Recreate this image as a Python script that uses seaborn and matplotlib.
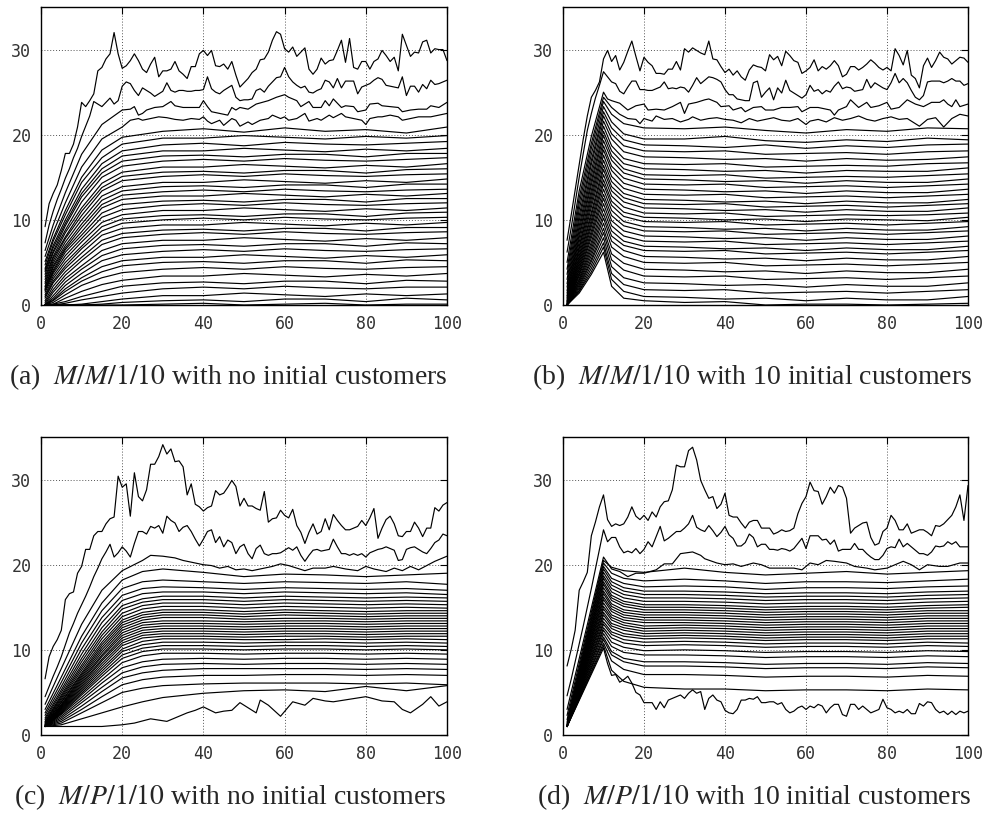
import matplotlib
matplotlib.use("Agg")
import matplotlib.pyplot as plt
import pandas as pd
import seaborn as sns

sns.set_style("white")
plt.rcParams["font.family"] = ["DejaVu Sans Mono", "DejaVu Sans"]
plt.rcParams["mathtext.fontset"] = "stix"

# time index of the detailed series
X100 = list(range(1, 101))

# ---------------- panel (a): M/M/1/10, no initial customers ----------------
A_TOP1 = [9.2, 11.9, 13.1, 14.1, 15.8, 17.8, 17.8, 18.9, 20.9, 23.8,
          23.3, 24.0, 24.8, 27.5, 27.9, 28.9, 29.5, 32.0, 29.5, 27.8,
          28.1, 28.7, 29.5, 28.7, 27.7, 27.3, 28.3, 29.1, 26.8, 27.5,
          27.5, 27.7, 28.6, 27.5, 27.1, 26.6, 28.0, 28.0, 29.5, 29.9,
          29.3, 29.9, 28.1, 28.0, 28.3, 27.7, 28.6, 27.0, 25.6, 26.1,
          26.6, 27.3, 27.7, 28.8, 28.9, 29.7, 31.1, 32.1, 31.8, 30.1,
          29.7, 30.3, 29.2, 29.7, 30.2, 27.7, 27.1, 27.7, 29.0, 28.3,
          28.7, 28.8, 29.9, 31.1, 28.5, 31.3, 27.9, 27.7, 28.6, 28.6,
          27.7, 28.6, 28.9, 29.9, 29.3, 28.6, 29.1, 27.5, 31.8, 30.5,
          29.2, 29.7, 29.6, 30.9, 31.1, 29.6, 30.1, 30.0, 30.0, 28.7]
A_TOP2 = [7.3, 9.4, 11.0, 12.4, 13.6, 14.9, 16.0, 17.3, 18.4, 19.8,
          21.0, 22.2, 23.9, 23.6, 23.3, 23.8, 24.3, 23.6, 24.0, 25.7,
          26.2, 26.0, 25.2, 24.6, 25.5, 25.2, 24.9, 24.5, 24.8, 25.1,
          26.1, 25.2, 25.0, 25.2, 25.2, 25.1, 25.1, 25.2, 25.2, 25.3,
          26.8, 25.4, 25.0, 24.8, 25.2, 25.5, 25.8, 24.4, 24.0, 24.1,
          24.1, 24.2, 25.2, 25.4, 25.0, 25.7, 26.2, 26.7, 26.8, 27.9,
          26.8, 26.2, 25.8, 25.5, 25.7, 25.0, 24.9, 25.2, 25.4, 26.4,
          26.2, 25.5, 26.6, 25.5, 26.3, 26.3, 26.3, 24.8, 25.6, 25.8,
          26.0, 26.4, 26.7, 26.5, 25.8, 25.7, 25.6, 25.5, 26.8, 24.6,
          25.7, 25.7, 25.0, 25.9, 25.4, 26.4, 25.9, 26.0, 26.2, 26.4]
A_L3_X = [1, 3, 6, 10, 15, 20, 22, 23, 24, 25, 26, 28, 30, 32, 33, 35, 37, 39, 40,
          41, 42, 44, 46, 47, 48, 49, 51, 53, 56, 58, 60, 61, 63, 64, 66, 67, 69, 70,
          71, 72, 74, 75, 77, 78, 80, 81, 83, 84, 86, 88, 89, 91, 93, 95, 96, 98, 100]
A_L3_Y = [6.4, 9.4, 13.2, 17.7, 21.2, 22.9, 23.0, 23.3, 22.3, 22.5, 22.9, 23.2, 23.3,
          23.9, 23.4, 23.2, 23.2, 23.2, 24.0, 23.3, 22.7, 22.5, 22.3, 23.2, 22.9, 23.2,
          23.0, 23.6, 24.0, 24.4, 24.7, 24.4, 24.0, 23.3, 23.9, 23.2, 23.2, 24.0, 23.4,
          24.2, 23.2, 23.4, 23.3, 22.7, 22.9, 23.6, 23.7, 23.4, 23.3, 23.2, 22.7, 22.9,
          23.0, 23.0, 23.4, 23.2, 23.8]
A_L4_X = [1, 3, 6, 10, 15, 20, 22, 24, 25, 27, 29, 31, 33, 35, 37, 39, 40, 41, 42,
          44, 45, 47, 48, 49, 51, 52, 54, 56, 57, 59, 60, 61, 63, 65, 66, 68, 69, 71,
          72, 74, 75, 77, 79, 80, 81, 83, 84, 86, 88, 89, 91, 93, 94, 96, 98, 100]
A_L4_Y = [5.7, 8.5, 12.0, 16.2, 19.5, 20.9, 21.7, 21.9, 21.7, 21.9, 22.1, 22.0, 21.8,
          21.7, 21.9, 21.8, 22.1, 21.6, 21.3, 21.7, 21.1, 21.9, 21.7, 21.0, 21.5, 21.2,
          21.7, 21.9, 22.3, 21.9, 22.1, 21.7, 21.9, 22.5, 21.6, 21.9, 21.7, 22.3, 22.0,
          22.5, 22.1, 21.9, 21.7, 21.2, 21.9, 22.1, 22.1, 22.3, 22.1, 21.7, 21.9, 22.1,
          22.1, 22.1, 22.3, 22.5]
A_GRID_X = [1, 3, 6, 10, 15, 20, 30, 40, 50, 60, 70, 80, 90, 100]
A_ROWS = [
    [5.1, 7.8, 11.1, 15.0, 18.2, 19.7, 20.4, 20.7, 20.3, 20.8, 20.4, 20.6, 20.2, 20.9],
    [4.7, 7.5, 10.6, 14.4, 17.3, 18.9, 19.6, 19.6, 19.9, 19.7, 19.5, 19.8, 19.6, 19.9],
    [4.3, 7.0, 10.0, 13.6, 16.6, 18.1, 18.8, 19.0, 18.7, 19.1, 18.9, 18.8, 19.0, 19.2],
    [4.1, 6.7, 9.6, 13.1, 16.0, 17.5, 18.1, 18.1, 18.4, 18.2, 18.0, 18.3, 18.1, 18.4],
    [3.9, 6.3, 9.3, 12.7, 15.5, 16.9, 17.5, 17.6, 17.4, 17.7, 17.7, 17.4, 17.8, 17.8],
    [3.6, 6.1, 8.8, 12.1, 15.0, 16.3, 16.9, 17.1, 16.9, 17.2, 17.0, 16.9, 17.1, 17.3],
    [3.3, 5.7, 8.5, 11.4, 14.3, 15.6, 16.2, 16.2, 16.5, 16.3, 16.1, 16.4, 16.2, 16.6],
    [3.0, 5.5, 8.0, 11.0, 13.8, 15.1, 15.6, 15.7, 15.5, 15.8, 15.8, 15.5, 15.9, 16.0],
    [2.7, 5.2, 7.8, 10.5, 13.4, 14.6, 15.1, 15.3, 15.1, 15.4, 15.2, 15.1, 15.3, 15.4],
    [2.5, 4.9, 7.4, 10.0, 12.8, 13.9, 14.4, 14.4, 14.7, 14.5, 14.3, 14.6, 14.4, 14.8],
    [2.2, 4.6, 7.0, 9.5, 12.3, 13.4, 13.9, 14.0, 13.8, 14.1, 14.1, 13.8, 14.2, 14.2],
    [2.1, 4.4, 6.7, 9.1, 11.8, 12.9, 13.3, 13.5, 13.3, 13.6, 13.4, 13.3, 13.5, 13.6],
    [1.9, 4.1, 6.5, 8.6, 11.4, 12.4, 12.8, 12.8, 13.1, 12.9, 12.7, 13.0, 12.8, 13.1],
    [1.8, 3.9, 6.2, 8.2, 10.8, 11.8, 12.2, 12.3, 12.1, 12.4, 12.4, 12.1, 12.5, 12.5],
    [1.7, 3.7, 5.8, 7.8, 10.3, 11.2, 11.7, 11.9, 11.7, 12.0, 11.8, 11.7, 11.9, 12.0],
    [1.5, 3.4, 5.4, 7.4, 9.7, 10.6, 11.1, 11.1, 11.4, 11.2, 11.0, 11.3, 11.1, 11.4],
    [1.2, 3.1, 5.0, 6.9, 9.2, 10.1, 10.5, 10.6, 10.4, 10.7, 10.7, 10.4, 10.8, 10.9],
    [1.0, 2.8, 4.6, 6.6, 8.7, 9.6, 10.0, 10.2, 10.0, 10.3, 10.1, 10.0, 10.2, 10.3],
    [0.8, 2.6, 4.3, 6.1, 8.2, 9.0, 9.4, 9.4, 9.7, 9.5, 9.3, 9.6, 9.4, 9.7],
    [0.5, 2.2, 3.9, 5.6, 7.6, 8.4, 8.8, 8.9, 8.7, 9.0, 9.0, 8.7, 9.1, 9.1],
    [0.3, 1.8, 3.5, 5.2, 7.1, 7.9, 8.3, 8.5, 8.3, 8.6, 8.4, 8.3, 8.5, 8.6],
    [0.1, 1.5, 3.1, 4.6, 6.4, 7.2, 7.6, 7.6, 7.9, 7.7, 7.5, 7.8, 7.6, 7.9],
    [0.0, 1.1, 2.7, 4.2, 5.8, 6.6, 7.0, 7.1, 6.9, 7.2, 7.2, 6.9, 7.3, 7.2],
    [0.0, 0.8, 2.3, 3.7, 5.2, 5.9, 6.3, 6.5, 6.3, 6.6, 6.4, 6.3, 6.5, 6.6],
    [0.0, 0.6, 1.9, 3.2, 4.5, 5.2, 5.6, 5.6, 5.9, 5.7, 5.5, 5.8, 5.6, 5.9],
    [0.0, 0.5, 1.6, 2.8, 3.9, 4.6, 5.0, 5.1, 4.9, 5.2, 5.2, 4.9, 5.3, 5.2],
    [0.0, 0.3, 1.2, 2.3, 3.2, 3.8, 4.2, 4.4, 4.2, 4.5, 4.3, 4.2, 4.4, 4.5],
    [0.0, 0.1, 0.8, 1.6, 2.4, 2.9, 3.4, 3.4, 3.7, 3.5, 3.3, 3.6, 3.4, 3.7],
    [0.0, 0.1, 0.4, 1.0, 1.6, 2.2, 2.6, 2.7, 2.5, 2.8, 2.8, 2.5, 2.9, 2.8],
    [0.0, 0.0, 0.2, 0.6, 1.0, 1.4, 1.9, 2.1, 1.9, 2.2, 2.0, 1.9, 2.1, 2.1],
    [0.0, 0.0, 0.0, 0.1, 0.4, 0.7, 1.1, 1.1, 1.4, 1.2, 1.0, 1.3, 1.1, 1.3],
    [0.0, 0.0, 0.0, 0.0, 0.1, 0.3, 0.5, 0.6, 0.4, 0.7, 0.7, 0.4, 0.8, 0.6],
    [0.0, 0.0, 0.0, 0.0, 0.0, 0.0, 0.1, 0.2, 0.0, 0.1, 0.2, 0.0, 0.1, 0.1],
]

# ---------------- panel (b): M/M/1/10, 10 initial customers ----------------
B_TOP1 = [7.6, 10.5, 13.5, 16.5, 19.5, 22.2, 24.4, 25.2, 26.2, 28.9,
          29.9, 28.6, 29.3, 27.6, 28.5, 29.8, 31.0, 29.2, 27.5, 29.1,
          28.5, 28.1, 27.2, 27.2, 27.1, 27.7, 27.7, 28.6, 27.6, 30.1,
          29.7, 30.2, 29.9, 29.6, 29.4, 31.0, 28.9, 28.8, 28.0, 27.3,
          27.7, 27.0, 27.5, 26.8, 26.4, 27.6, 28.2, 28.0, 27.9, 27.5,
          29.4, 28.8, 29.2, 28.1, 29.8, 29.3, 28.7, 28.5, 27.2, 27.5,
          27.9, 28.8, 27.5, 28.0, 27.7, 28.1, 28.7, 28.1, 26.8, 27.1,
          28.0, 28.0, 27.6, 27.9, 28.3, 28.8, 28.4, 27.9, 27.6, 27.9,
          27.5, 30.1, 29.3, 28.2, 29.9, 27.0, 26.6, 25.5, 28.1, 29.0,
          27.9, 28.7, 29.7, 29.1, 28.9, 28.3, 28.7, 29.1, 29.0, 28.5]
B_TOP2 = [6.2, 9.0, 12.0, 15.0, 17.8, 20.5, 22.5, 24.3, 25.8, 27.4,
          26.8, 26.2, 26.0, 25.1, 24.8, 25.6, 26.3, 26.3, 25.3, 25.3,
          25.2, 25.2, 25.4, 25.6, 26.2, 25.4, 25.5, 25.4, 25.6, 25.5,
          25.0, 25.8, 26.7, 26.0, 26.4, 26.8, 26.7, 26.5, 26.2, 25.3,
          24.7, 24.7, 24.2, 24.1, 24.0, 24.0, 26.1, 26.3, 24.4, 25.0,
          25.5, 24.1, 25.5, 24.9, 26.4, 25.2, 24.9, 24.6, 24.3, 24.7,
          25.8, 25.1, 25.3, 24.8, 25.2, 25.0, 25.7, 26.2, 25.4, 25.6,
          25.5, 25.1, 25.2, 25.3, 26.5, 25.5, 26.1, 25.8, 25.5, 25.3,
          26.1, 27.2, 26.1, 26.6, 26.1, 25.2, 24.4, 24.1, 24.6, 26.2,
          26.3, 26.3, 26.3, 26.1, 26.3, 26.6, 26.3, 26.3, 25.8, 26.0]
B_L3_X = [1, 4, 7, 10, 11, 12, 14, 15, 16, 18, 20, 21, 23, 25, 27, 29, 30, 31, 33, 35,
          36, 38, 39, 41, 42, 44, 45, 47, 49, 50, 52, 54, 56, 58, 59, 61, 63, 66, 67, 68,
          70, 71, 73, 75, 76, 78, 80, 81, 83, 85, 87, 89, 91, 93, 94, 95, 96, 97, 98, 100]
B_L3_Y = [5.0, 13.4, 19.8, 25.0, 24.2, 24.0, 23.7, 23.3, 22.9, 23.4, 23.6, 22.9, 23.0,
          22.9, 23.3, 23.8, 22.5, 23.6, 23.8, 24.1, 24.2, 23.8, 23.3, 23.4, 22.9, 23.2,
          22.7, 23.2, 23.3, 22.9, 22.9, 23.2, 23.2, 23.3, 22.7, 23.2, 23.2, 22.9, 22.3,
          22.9, 23.3, 24.1, 23.2, 23.8, 23.2, 23.4, 23.8, 23.0, 23.2, 24.1, 23.6, 23.3,
          23.8, 23.8, 24.1, 23.6, 23.3, 24.1, 23.3, 23.6]
B_L4_X = [1, 4, 7, 10, 12, 14, 16, 18, 19, 20, 22, 23, 25, 27, 29, 31, 32, 34, 36, 38,
          40, 42, 44, 46, 48, 50, 52, 54, 56, 58, 60, 61, 63, 65, 67, 69, 71, 73, 75, 77,
          79, 81, 83, 85, 87, 88, 90, 92, 94, 96, 98, 100]
B_L4_Y = [4.2, 12.6, 19.0, 24.4, 23.2, 22.4, 21.9, 21.8, 21.3, 21.9, 21.6, 22.2, 21.8,
          21.9, 21.5, 21.8, 22.1, 21.7, 21.9, 22.0, 21.8, 21.7, 21.4, 21.9, 21.6, 21.8,
          22.0, 21.7, 21.6, 21.9, 21.2, 21.6, 21.8, 21.5, 22.0, 21.7, 21.9, 22.2, 21.8,
          21.6, 21.9, 22.1, 21.8, 21.9, 21.3, 21.0, 21.8, 22.0, 20.9, 21.9, 22.4, 22.2]
B_GRID_X = [1, 4, 7, 10, 12, 15, 20, 30, 40, 50, 60, 70, 80, 90, 100]
B_ROWS = [
    [3.6, 11.9, 18.4, 23.9, 22.4, 21.3, 20.8, 20.7, 20.9, 20.5, 20.2, 20.6, 20.4, 20.8, 20.7],
    [3.0, 11.2, 17.7, 23.3, 21.5, 20.1, 19.5, 19.5, 19.8, 19.3, 19.1, 19.4, 19.2, 19.6, 19.4],
    [2.5, 10.5, 17.0, 22.7, 20.8, 19.4, 18.8, 18.7, 18.5, 18.8, 18.4, 18.7, 18.5, 18.8, 18.9],
    [2.1, 9.9, 16.5, 22.2, 20.1, 18.7, 18.1, 18.0, 18.1, 17.7, 17.8, 17.9, 17.7, 18.0, 18.1],
    [1.7, 9.3, 15.8, 21.6, 19.5, 18.0, 17.4, 17.3, 17.1, 17.2, 16.9, 17.2, 17.0, 17.1, 17.4],
    [1.4, 8.8, 15.2, 21.0, 18.7, 17.2, 16.6, 16.5, 16.6, 16.2, 16.3, 16.4, 16.3, 16.6, 16.7],
    [1.1, 8.3, 14.6, 20.4, 18.1, 16.6, 16.0, 15.9, 15.7, 15.8, 15.5, 15.8, 15.7, 15.7, 16.1],
    [0.9, 7.9, 14.1, 19.9, 17.5, 16.0, 15.3, 15.2, 15.3, 14.9, 15.0, 15.1, 15.0, 15.2, 15.4],
    [0.7, 7.4, 13.5, 19.3, 17.0, 15.5, 14.8, 14.7, 14.5, 14.6, 14.3, 14.6, 14.4, 14.4, 14.8],
    [0.5, 6.9, 13.0, 18.7, 16.3, 14.9, 14.2, 14.1, 14.2, 13.8, 13.9, 14.0, 13.8, 14.0, 14.2],
    [0.4, 6.6, 12.5, 18.2, 15.8, 14.3, 13.6, 13.5, 13.3, 13.4, 13.1, 13.4, 13.2, 13.2, 13.6],
    [0.3, 6.2, 12.0, 17.6, 15.1, 13.7, 13.0, 12.9, 13.0, 12.6, 12.7, 12.8, 12.6, 12.8, 13.0],
    [0.2, 5.8, 11.5, 17.0, 14.5, 13.1, 12.4, 12.3, 12.1, 12.2, 11.9, 12.2, 12.0, 12.0, 12.4],
    [0.1, 5.5, 10.9, 16.4, 13.9, 12.6, 11.9, 11.8, 11.9, 11.5, 11.6, 11.7, 11.5, 11.7, 11.9],
    [0.0, 5.2, 10.5, 15.9, 13.4, 12.1, 11.4, 11.3, 11.1, 11.2, 10.9, 11.2, 11.0, 11.0, 11.4],
    [0.0, 4.9, 10.0, 15.3, 12.8, 11.5, 10.8, 10.7, 10.8, 10.4, 10.5, 10.6, 10.5, 10.6, 10.8],
    [0.0, 4.6, 9.6, 14.7, 12.2, 10.9, 10.3, 10.2, 10.0, 10.1, 9.8, 10.1, 10.0, 9.9, 10.3],
    [0.0, 4.3, 9.2, 14.2, 11.7, 10.4, 9.8, 9.7, 9.8, 9.4, 9.5, 9.6, 9.4, 9.6, 9.8],
    [0.0, 4.1, 8.7, 13.6, 11.1, 9.8, 9.2, 9.1, 8.9, 9.0, 8.7, 9.0, 8.8, 8.8, 9.2],
    [0.0, 3.8, 8.3, 13.0, 10.5, 9.3, 8.7, 8.6, 8.7, 8.3, 8.4, 8.5, 8.3, 8.5, 8.7],
    [0.0, 3.6, 7.9, 12.5, 9.9, 8.7, 8.1, 8.0, 7.8, 7.9, 7.6, 7.9, 7.7, 7.7, 8.1],
    [0.0, 3.4, 7.4, 11.9, 9.3, 8.1, 7.5, 7.4, 7.5, 7.1, 7.2, 7.3, 7.1, 7.3, 7.5],
    [0.0, 3.1, 7.0, 11.3, 8.7, 7.5, 6.9, 6.8, 6.6, 6.7, 6.4, 6.7, 6.5, 6.5, 6.9],
    [0.0, 2.9, 6.6, 10.7, 8.1, 7.0, 6.4, 6.3, 6.4, 6.0, 6.1, 6.2, 6.0, 6.2, 6.4],
    [0.0, 2.7, 6.2, 10.2, 7.5, 6.4, 5.7, 5.6, 5.4, 5.5, 5.2, 5.5, 5.3, 5.3, 5.7],
    [0.0, 2.5, 5.8, 9.6, 6.8, 5.7, 5.0, 4.9, 5.0, 4.6, 4.7, 4.8, 4.6, 4.8, 5.0],
    [0.0, 2.3, 5.4, 9.0, 6.0, 4.9, 4.2, 4.1, 3.9, 4.0, 3.7, 4.0, 3.8, 3.8, 4.2],
    [0.0, 2.1, 5.1, 8.5, 5.3, 4.1, 3.4, 3.3, 3.4, 3.0, 3.1, 3.2, 3.0, 3.2, 3.4],
    [0.0, 1.9, 4.7, 7.9, 4.5, 3.2, 2.6, 2.5, 2.3, 2.4, 2.1, 2.4, 2.2, 2.2, 2.6],
    [0.0, 1.7, 4.3, 7.3, 3.7, 2.4, 1.8, 1.7, 1.8, 1.4, 1.5, 1.6, 1.4, 1.6, 1.8],
    [0.0, 1.6, 3.9, 6.8, 3.0, 1.6, 1.0, 0.9, 0.7, 0.8, 0.5, 0.8, 0.6, 0.6, 1.0],
    [0.0, 1.4, 3.6, 6.2, 2.2, 0.8, 0.5, 0.3, 0.4, 0.0, 0.1, 0.1, 0.0, 0.1, 0.2],
]

# ---------------- panel (c): M/P/1/10, no initial customers ----------------
C_TOP1 = [6.6, 9.2, 10.4, 11.2, 12.3, 15.9, 16.6, 16.8, 19.0, 19.8,
          21.8, 21.8, 23.4, 23.9, 23.9, 24.8, 25.4, 25.6, 30.4, 29.1,
          29.5, 25.7, 30.8, 28.0, 27.5, 28.8, 31.8, 31.8, 32.7, 34.1,
          33.0, 33.6, 32.1, 32.2, 31.5, 28.2, 29.5, 27.1, 26.8, 26.3,
          26.7, 26.9, 28.7, 28.2, 28.4, 29.1, 29.9, 29.2, 26.9, 27.8,
          26.9, 26.9, 26.6, 26.4, 28.6, 25.0, 25.4, 25.5, 26.4, 25.8,
          25.5, 26.5, 24.6, 23.8, 22.5, 23.8, 24.8, 23.6, 23.9, 25.4,
          24.1, 25.9, 25.2, 24.6, 24.1, 24.1, 24.3, 24.5, 25.2, 24.6,
          25.5, 26.6, 23.1, 24.3, 25.3, 25.7, 24.8, 23.4, 23.3, 23.9,
          23.9, 25.0, 24.3, 23.3, 24.3, 24.3, 26.7, 26.3, 27.0, 27.3]
C_TOP2 = [4.5, 5.7, 6.9, 8.0, 9.2, 10.6, 12.0, 13.1, 14.3, 15.3,
          16.3, 17.4, 18.6, 19.6, 20.7, 21.5, 22.4, 20.9, 21.4, 22.1,
          21.6, 20.9, 22.5, 23.9, 23.9, 23.6, 24.5, 24.3, 24.6, 23.7,
          25.7, 25.2, 24.9, 23.9, 24.4, 24.6, 23.9, 23.0, 22.2, 23.0,
          23.9, 24.1, 22.6, 23.3, 22.1, 22.9, 22.6, 21.3, 22.1, 22.4,
          21.3, 20.7, 21.9, 22.3, 21.3, 21.1, 21.3, 21.3, 21.4, 21.7,
          22.0, 21.7, 22.1, 21.1, 20.4, 21.1, 21.7, 21.8, 21.6, 21.7,
          21.8, 23.0, 22.1, 21.3, 21.3, 21.1, 21.3, 21.1, 21.3, 20.9,
          21.4, 21.6, 21.8, 21.9, 22.1, 21.9, 21.7, 20.5, 20.6, 21.8,
          22.0, 22.1, 21.8, 21.5, 21.3, 21.9, 22.6, 22.9, 23.6, 23.4]
C_L3_X = [1, 5, 10, 15, 20, 25, 27, 30, 33, 35, 38, 40, 42, 44, 46, 48, 50, 52, 55, 57,
          59, 61, 63, 65, 67, 70, 72, 75, 78, 80, 82, 85, 87, 89, 91, 93, 95, 97, 99, 100]
C_L3_Y = [3.6, 7.8, 13.0, 17.0, 19.3, 20.5, 21.1, 21.0, 20.8, 20.5, 20.2, 20.0, 19.9,
          19.6, 19.8, 19.4, 19.5, 19.3, 19.6, 19.8, 20.1, 19.9, 19.6, 19.3, 19.6, 19.6,
          19.8, 19.5, 19.3, 19.8, 19.5, 19.2, 19.6, 19.3, 19.8, 19.4, 19.9, 20.4, 20.8, 21.0]
C_GRID_X = [1, 5, 10, 15, 20, 25, 30, 40, 50, 60, 70, 80, 90, 100]
C_ROWS = [
    [3.0, 6.8, 11.6, 15.5, 18.2, 19.2, 19.5, 19.1, 18.6, 18.9, 18.8, 18.6, 18.8, 19.0],
    [2.6, 6.2, 10.8, 14.6, 17.2, 18.0, 18.2, 18.0, 17.8, 18.0, 17.9, 17.8, 18.0, 17.7],
    [2.3, 5.7, 10.1, 13.8, 16.4, 17.2, 17.4, 17.3, 17.1, 17.3, 17.2, 17.1, 17.2, 17.0],
    [2.0, 5.3, 9.5, 13.2, 15.8, 16.6, 16.8, 16.8, 16.6, 16.8, 16.7, 16.6, 16.7, 16.5],
    [1.8, 5.0, 9.0, 12.6, 15.2, 16.0, 16.3, 16.3, 16.1, 16.3, 16.2, 16.1, 16.2, 16.1],
    [1.6, 4.7, 8.6, 12.1, 14.8, 15.6, 15.9, 15.9, 15.7, 15.9, 15.8, 15.7, 15.8, 15.7],
    [1.5, 4.5, 8.2, 11.7, 14.3, 15.2, 15.5, 15.5, 15.3, 15.5, 15.4, 15.3, 15.4, 15.3],
    [1.4, 4.3, 7.9, 11.3, 13.9, 14.8, 15.1, 15.1, 14.9, 15.1, 15.0, 14.9, 15.0, 14.9],
    [1.3, 4.1, 7.6, 10.9, 13.5, 14.4, 14.7, 14.7, 14.5, 14.7, 14.6, 14.5, 14.6, 14.6],
    [1.2, 3.9, 7.3, 10.6, 13.2, 14.1, 14.4, 14.4, 14.2, 14.4, 14.3, 14.2, 14.3, 14.3],
    [1.2, 3.8, 7.1, 10.3, 12.9, 13.8, 14.1, 14.1, 13.9, 14.1, 14.0, 13.9, 14.0, 14.0],
    [1.1, 3.6, 6.9, 10.0, 12.6, 13.5, 13.8, 13.8, 13.6, 13.7, 13.7, 13.6, 13.7, 13.7],
    [1.1, 3.5, 6.7, 9.7, 12.3, 13.2, 13.4, 13.4, 13.3, 13.4, 13.4, 13.3, 13.4, 13.4],
    [1.0, 3.4, 6.5, 9.4, 12.0, 12.9, 13.1, 13.1, 13.0, 13.1, 13.1, 13.0, 13.1, 13.1],
    [1.0, 3.3, 6.3, 9.2, 11.7, 12.6, 12.8, 12.8, 12.7, 12.8, 12.8, 12.7, 12.8, 12.8],
    [1.0, 3.2, 6.1, 8.9, 11.4, 12.3, 12.5, 12.5, 12.4, 12.5, 12.5, 12.4, 12.5, 12.5],
    [1.0, 3.1, 5.9, 8.7, 11.1, 12.0, 12.2, 12.2, 12.1, 12.2, 12.2, 12.1, 12.2, 12.2],
    [1.0, 3.0, 5.7, 8.4, 10.8, 11.7, 11.9, 11.9, 11.8, 11.9, 11.9, 11.8, 11.9, 11.9],
    [1.0, 2.9, 5.5, 8.1, 10.5, 11.4, 11.6, 11.6, 11.5, 11.6, 11.6, 11.5, 11.6, 11.6],
    [1.0, 2.8, 5.3, 7.8, 10.1, 11.0, 11.3, 11.3, 11.2, 11.2, 11.3, 11.2, 11.3, 11.2],
    [1.0, 2.7, 5.1, 7.5, 9.8, 10.6, 10.9, 10.9, 10.8, 10.9, 10.9, 10.8, 10.9, 10.8],
    [1.0, 2.6, 4.9, 7.2, 9.4, 10.2, 10.5, 10.5, 10.4, 10.5, 10.5, 10.4, 10.5, 10.4],
    [1.0, 2.5, 4.7, 6.9, 9.0, 9.8, 10.1, 10.1, 10.0, 10.1, 10.1, 10.0, 10.1, 10.0],
    [1.0, 2.4, 4.4, 6.5, 8.5, 9.3, 9.6, 9.6, 9.5, 9.6, 9.6, 9.5, 9.6, 9.5],
    [1.0, 2.2, 4.1, 6.1, 7.9, 8.6, 8.9, 9.0, 8.9, 9.0, 9.0, 8.9, 9.0, 8.9],
    [1.0, 2.0, 3.8, 5.6, 7.3, 8.0, 8.3, 8.4, 8.3, 8.4, 8.4, 8.3, 8.4, 8.3],
    [1.0, 1.8, 3.4, 5.1, 6.7, 7.3, 7.6, 7.8, 7.8, 7.8, 7.8, 7.7, 7.8, 7.7],
    [1.0, 1.6, 3.0, 4.5, 5.9, 6.5, 6.8, 7.0, 7.0, 7.1, 7.1, 7.0, 7.1, 7.0],
    [1.0, 1.4, 2.6, 3.8, 5.0, 5.5, 5.8, 6.0, 6.1, 6.1, 6.1, 6.0, 6.1, 5.9],
    [1.0, 1.2, 1.9, 2.6, 3.3, 3.9, 4.4, 4.9, 5.2, 5.3, 5.1, 5.7, 5.2, 5.8],
]
C_BOT_X = [1, 5, 10, 15, 20, 23, 27, 31, 34, 36, 38, 40, 43, 45, 47, 49, 51, 53,
           54, 56, 59, 62, 65, 67, 70, 72, 76, 80, 84, 87, 89, 91, 94, 96, 98, 100]
C_BOT_Y = [1.0, 1.0, 1.0, 1.0, 1.2, 1.4, 1.9, 1.6, 2.2, 2.6, 2.9, 3.3, 2.6, 2.8, 2.9, 3.8, 3.2, 2.6,
           4.1, 3.5, 2.2, 3.9, 3.5, 4.3, 4.0, 3.9, 4.2, 4.5, 4.0, 3.9, 3.0, 2.6, 3.6, 4.5, 3.4, 3.9]

# ---------------- panel (d): M/P/1/10, 10 initial customers ----------------
D_TOP1 = [8.1, 10.0, 12.3, 17.0, 18.0, 19.1, 23.4, 25.0, 26.8, 28.2,
          25.3, 24.5, 24.8, 24.6, 24.8, 25.6, 26.8, 25.7, 25.3, 25.8,
          25.2, 26.2, 25.6, 26.8, 27.4, 27.5, 28.8, 31.7, 31.5, 31.5,
          33.4, 33.8, 32.3, 29.9, 28.8, 27.8, 28.0, 26.6, 27.1, 28.4,
          25.8, 25.6, 25.6, 24.9, 24.3, 25.0, 25.2, 25.2, 24.3, 24.3,
          24.3, 23.6, 23.8, 24.1, 23.9, 24.0, 24.3, 26.0, 27.2, 28.0,
          29.7, 28.7, 28.6, 27.1, 28.0, 29.1, 28.4, 29.3, 29.1, 27.8,
          23.7, 24.3, 24.6, 24.9, 25.0, 23.2, 22.3, 22.5, 23.9, 24.3,
          25.8, 25.2, 24.1, 24.1, 24.8, 23.7, 23.9, 24.1, 24.1, 23.8,
          23.4, 24.6, 24.5, 24.8, 25.3, 25.8, 26.8, 28.2, 25.2, 29.3]
D_TOP2 = [4.6, 6.5, 8.6, 10.7, 12.8, 15.0, 17.2, 19.5, 21.8, 24.1,
          22.7, 23.2, 23.2, 22.1, 21.4, 21.6, 21.4, 21.9, 21.3, 21.8,
          22.7, 22.1, 23.3, 24.5, 22.8, 23.1, 23.5, 23.9, 23.9, 24.3,
          24.8, 25.8, 24.4, 24.1, 23.9, 24.6, 24.0, 23.3, 23.8, 24.5,
          23.5, 23.1, 22.2, 22.2, 22.6, 23.6, 23.2, 22.1, 22.4, 22.4,
          21.8, 21.8, 21.7, 21.9, 21.8, 21.6, 21.9, 22.5, 23.1, 21.9,
          23.4, 23.4, 23.4, 22.9, 23.0, 22.4, 22.9, 21.6, 21.8, 21.8,
          21.8, 22.5, 21.8, 21.8, 21.3, 20.9, 20.6, 20.6, 21.1, 21.9,
          22.1, 22.0, 23.0, 22.1, 22.5, 22.1, 21.7, 21.3, 21.3, 21.1,
          21.5, 22.2, 22.1, 22.2, 22.7, 22.4, 22.7, 22.1, 22.1, 22.1]
D_L3_X = [1, 10, 12, 14, 16, 18, 20, 23, 25, 27, 29, 32, 34, 35, 38, 40, 42, 44, 47, 49,
          51, 53, 55, 57, 59, 61, 63, 65, 67, 70, 72, 75, 77, 80, 82, 84, 86, 88, 90, 93,
          95, 98, 100]
D_L3_Y = [3.0, 20.9, 19.5, 19.2, 18.6, 19.0, 19.0, 19.4, 20.1, 20.1, 21.3, 21.5, 21.1,
          20.7, 20.2, 20.0, 20.1, 19.8, 20.2, 20.0, 19.6, 19.6, 19.6, 19.6, 19.4, 20.2,
          20.0, 20.5, 20.4, 20.2, 19.8, 19.6, 19.4, 19.6, 20.0, 20.4, 20.0, 19.4, 20.0,
          19.8, 19.8, 20.2, 20.2]
D_GRID_X = [1, 10, 12, 15, 20, 30, 40, 50, 60, 70, 80, 90, 100]
D_ROWS = [
    [2.3, 20.5, 19.7, 19.3, 19.1, 19.6, 19.1, 18.8, 19.0, 19.2, 18.9, 19.1, 19.3],
    [1.8, 20.2, 19.0, 18.4, 18.1, 18.3, 18.1, 17.8, 18.0, 18.0, 17.9, 18.1, 18.3],
    [1.5, 19.8, 18.4, 17.8, 17.4, 17.5, 17.4, 17.1, 17.3, 17.3, 17.2, 17.4, 17.5],
    [1.3, 19.5, 18.0, 17.3, 16.9, 16.9, 16.8, 16.6, 16.7, 16.7, 16.6, 16.8, 16.9],
    [1.2, 19.1, 17.6, 16.9, 16.5, 16.5, 16.4, 16.2, 16.3, 16.3, 16.2, 16.4, 16.5],
    [1.1, 18.7, 17.2, 16.5, 16.1, 16.1, 16.0, 15.8, 15.9, 15.9, 15.8, 16.0, 16.1],
    [1.0, 18.4, 16.8, 16.1, 15.7, 15.7, 15.6, 15.4, 15.5, 15.5, 15.4, 15.6, 15.7],
    [1.0, 18.0, 16.4, 15.7, 15.3, 15.3, 15.2, 15.0, 15.1, 15.1, 15.0, 15.2, 15.3],
    [1.0, 17.7, 16.1, 15.4, 15.0, 15.0, 14.9, 14.7, 14.8, 14.8, 14.7, 14.9, 15.0],
    [1.0, 17.3, 15.8, 15.1, 14.7, 14.7, 14.6, 14.4, 14.5, 14.5, 14.4, 14.6, 14.6],
    [1.0, 16.9, 15.4, 14.7, 14.4, 14.4, 14.3, 14.1, 14.2, 14.2, 14.1, 14.3, 14.3],
    [1.0, 16.6, 15.1, 14.4, 14.1, 14.1, 14.0, 13.8, 13.9, 13.9, 13.8, 14.0, 14.0],
    [1.0, 16.2, 14.8, 14.1, 13.8, 13.8, 13.7, 13.5, 13.6, 13.6, 13.5, 13.7, 13.7],
    [1.0, 15.9, 14.5, 13.8, 13.5, 13.5, 13.4, 13.2, 13.3, 13.3, 13.2, 13.4, 13.4],
    [1.0, 15.5, 14.1, 13.5, 13.2, 13.2, 13.1, 12.9, 13.0, 13.0, 12.9, 13.1, 13.1],
    [1.0, 15.1, 13.8, 13.2, 12.8, 12.9, 12.8, 12.6, 12.7, 12.7, 12.6, 12.8, 12.8],
    [1.0, 14.8, 13.5, 12.9, 12.5, 12.6, 12.5, 12.3, 12.4, 12.4, 12.3, 12.5, 12.5],
    [1.0, 14.4, 13.1, 12.6, 12.2, 12.3, 12.2, 12.0, 12.1, 12.1, 12.0, 12.2, 12.2],
    [1.0, 14.1, 12.8, 12.3, 11.9, 12.0, 11.9, 11.7, 11.8, 11.8, 11.7, 11.9, 11.9],
    [1.0, 13.7, 12.5, 11.9, 11.6, 11.7, 11.6, 11.4, 11.5, 11.5, 11.4, 11.6, 11.6],
    [1.0, 13.3, 12.1, 11.6, 11.3, 11.4, 11.3, 11.1, 11.2, 11.2, 11.1, 11.3, 11.3],
    [1.0, 13.0, 11.8, 11.2, 10.9, 11.0, 10.9, 10.7, 10.8, 10.8, 10.7, 10.9, 10.8],
    [1.0, 12.6, 11.4, 10.8, 10.5, 10.6, 10.5, 10.3, 10.4, 10.4, 10.3, 10.5, 10.4],
    [1.0, 12.3, 10.9, 10.3, 9.9, 10.0, 9.9, 9.7, 9.8, 9.8, 9.7, 9.9, 9.8],
    [1.0, 11.9, 10.4, 9.7, 9.4, 9.4, 9.3, 9.1, 9.2, 9.2, 9.1, 9.3, 9.2],
    [1.0, 11.5, 9.8, 9.0, 8.6, 8.6, 8.5, 8.3, 8.4, 8.4, 8.3, 8.5, 8.4],
    [1.0, 11.2, 9.4, 8.6, 8.1, 8.1, 8.0, 7.8, 7.9, 7.9, 7.8, 8.0, 7.9],
    [1.0, 10.8, 8.7, 7.7, 7.1, 7.1, 7.0, 6.8, 6.9, 6.9, 6.8, 7.0, 6.9],
    [1.0, 10.5, 7.6, 6.3, 5.6, 5.4, 5.4, 5.2, 5.3, 5.3, 5.2, 5.4, 5.3],
]
D_BOT_X = [1] + list(range(10, 101))
D_BOT_Y = [1.0,
           10.2, 8.4, 7.0, 7.1, 6.2, 6.5, 6.9, 6.1, 5.0, 4.7,
           3.8, 3.8, 3.8, 3.0, 3.9, 3.2, 4.1, 4.3, 4.5, 4.7,
           4.3, 4.9, 5.3, 4.9, 5.1, 3.0, 4.3, 4.7, 4.1, 3.9,
           2.9, 2.6, 2.5, 3.0, 4.1, 4.1, 4.3, 4.2, 4.5, 3.8,
           3.8, 3.9, 3.9, 3.6, 3.8, 3.0, 2.6, 2.8, 3.2, 3.4,
           3.0, 3.4, 3.2, 3.6, 3.4, 2.6, 3.2, 3.6, 3.6, 2.4,
           2.2, 3.6, 3.6, 3.0, 3.4, 3.0, 2.6, 2.8, 3.0, 4.2,
           3.2, 3.0, 2.6, 2.8, 2.6, 3.0, 2.5, 2.5, 3.7, 3.4,
           3.9, 3.8, 3.0, 2.6, 2.8, 2.4, 2.8, 2.4, 2.8, 2.6,
           2.8]

CAPTIONS = [
    r"(a)  $M/M/1/10$ with no initial customers",
    r"(b)  $M/M/1/10$ with 10 initial customers",
    r"(c)  $M/P/1/10$ with no initial customers",
    r"(d)  $M/P/1/10$ with 10 initial customers",
]
X_TICKS = [0, 20, 40, 60, 80, 100]
Y_TICKS = [0, 10, 20, 30]


def build_frame(tops, grid_x, rows, extras):
    recs = []
    n = 0
    for ys in tops:
        assert len(ys) == len(X100)
        recs += [(n, x, y) for x, y in zip(X100, ys)]
        n += 1
    for xs, ys in extras:
        assert len(xs) == len(ys)
        recs += [(n, x, y) for x, y in zip(xs, ys)]
        n += 1
    for ys in rows:
        assert len(ys) == len(grid_x)
        recs += [(n, x, y) for x, y in zip(grid_x, ys)]
        n += 1
    return pd.DataFrame(recs, columns=["line", "x", "y"])


frames = [
    build_frame([A_TOP1, A_TOP2], A_GRID_X, A_ROWS,
                [(A_L3_X, A_L3_Y), (A_L4_X, A_L4_Y)]),
    build_frame([B_TOP1, B_TOP2], B_GRID_X, B_ROWS,
                [(B_L3_X, B_L3_Y), (B_L4_X, B_L4_Y)]),
    build_frame([C_TOP1, C_TOP2], C_GRID_X, C_ROWS,
                [(C_L3_X, C_L3_Y), (C_BOT_X, C_BOT_Y)]),
    build_frame([D_TOP1, D_TOP2], D_GRID_X, D_ROWS,
                [(D_L3_X, D_L3_Y), (D_BOT_X, D_BOT_Y)]),
]

W, H = 990, 819
fig = plt.figure(figsize=(W / 100, H / 100), dpi=100)

# axes boxes in pixels: left, top, right, bottom
boxes = [(41, 7, 447, 305), (563, 7, 968, 305),
         (41, 437, 447, 735), (563, 437, 968, 735)]
cap_pos = [(228, 377), (752, 377), (230, 797), (754, 797)]

for df, (l, t, r, b), cap, (cx, cy) in zip(frames, boxes, CAPTIONS, cap_pos):
    ax = fig.add_axes([l / W, 1 - b / H, (r - l) / W, (b - t) / H])
    sns.lineplot(data=df, x="x", y="y", units="line", estimator=None,
                 color="black", linewidth=0.85, sort=False, legend=False, ax=ax)
    ax.set_xlim(0, 100)
    ax.set_ylim(0, 35)
    ax.set_xticks(X_TICKS)
    ax.set_yticks(Y_TICKS)
    ax.set_xlabel("")
    ax.set_ylabel("")
    ax.grid(True, linestyle=(0, (1, 2)), color="#555555", linewidth=0.7)
    ax.tick_params(direction="in", length=5, width=0.8, top=True, right=True,
                   labelsize=12, labelcolor="#333333", color="black")
    ax.tick_params(axis="x", pad=7)
    ax.tick_params(axis="y", pad=7)
    for s in ax.spines.values():
        s.set_linewidth(1.0)
        s.set_color("black")
    fig.text(cx / W, 1 - cy / H, cap, ha="center", va="center",
             fontsize=20, family="Liberation Serif")

fig.savefig("out.png", dpi=100)
